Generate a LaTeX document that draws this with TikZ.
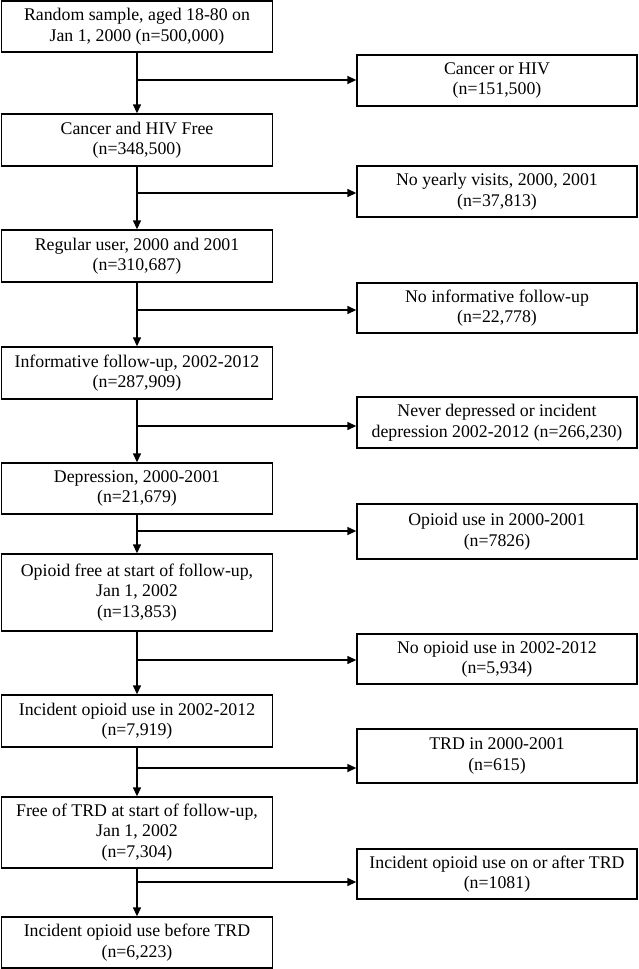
\documentclass[tikz,border=0pt]{standalone}
\usepackage{fontspec}
\setmainfont{Liberation Serif}
\usetikzlibrary{arrows.meta}
\begin{document}
\begin{tikzpicture}[x=1pt,y=-1pt,
  box/.style={draw=black, line width=1.4pt, rectangle, inner sep=0pt, align=center, font=\fontsize{17.8}{20.5}\selectfont},
  lbox/.style={box, minimum width=271pt},
  rbox/.style={box, minimum width=280pt},
  arr/.style={line width=1.4pt, -{Triangle[length=9pt,width=8pt]}}
]
\useasboundingbox (0,0) rectangle (638,969);
% left column
\node[lbox, minimum height=51pt] (b1) at (137,26.5) {Random sample, aged 18-80 on\\Jan 1, 2000 (n=500,000)};
\node[lbox, minimum height=52pt] (b2) at (137,140) {Cancer and HIV Free\\(n=348,500)};
\node[lbox, minimum height=52pt] (b3) at (137,256) {Regular user, 2000 and 2001\\(n=310,687)};
\node[lbox, minimum height=52pt] (b4) at (137,373) {Informative follow-up, 2002-2012\\(n=287,909)};
\node[lbox, minimum height=51pt] (b5) at (137,488.5) {Depression, 2000-2001\\(n=21,679)};
\node[lbox, minimum height=77pt] (b6) at (137,592.5) {Opioid free at start of follow-up,\\Jan 1, 2002\\(n=13,853)};
\node[lbox, minimum height=52pt] (b7) at (137,721) {Incident opioid use in 2002-2012\\(n=7,919)};
\node[lbox, minimum height=71pt] (b8) at (137,832.5) {Free of TRD at start of follow-up,\\Jan 1, 2002\\(n=7,304)};
\node[lbox, minimum height=51pt] (b9) at (137,942.5) {Incident opioid use before TRD\\(n=6,223)};
% right column
\node[rbox, minimum height=51pt] (r1) at (497,80.5) {Cancer or HIV\\(n=151,500)};
\node[rbox, minimum height=51pt] (r2) at (497,191.5) {No yearly visits, 2000, 2001\\(n=37,813)};
\node[rbox, minimum height=50pt] (r3) at (497,308) {No informative follow-up\\(n=22,778)};
\node[rbox, minimum height=51pt] (r4) at (497,422.5) {Never depressed or incident\\depression 2002-2012 (n=266,230)};
\node[rbox, minimum height=55pt] (r5) at (497,531.5) {Opioid use in 2000-2001\\(n=7826)};
\node[rbox, minimum height=50pt] (r6) at (497,659) {No opioid use in 2002-2012\\(n=5,934)};
\node[rbox, minimum height=54pt] (r7) at (497,756) {TRD in 2000-2001\\(n=615)};
\node[rbox, minimum height=50pt] (r8) at (497,874) {Incident opioid use on or after TRD\\(n=1081)};
% spine
\draw[arr] (b1.south) -- (b2.north);
\draw[arr] (b2.south) -- (b3.north);
\draw[arr] (b3.south) -- (b4.north);
\draw[arr] (b4.south) -- (b5.north);
\draw[arr] (b5.south) -- (b6.north);
\draw[arr] (b6.south) -- (b7.north);
\draw[arr] (b7.south) -- (b8.north);
\draw[arr] (b8.south) -- (b9.north);
% branches
\coordinate (j1) at (137,80);
\coordinate (j2) at (137,193);
\coordinate (j3) at (137,310);
\coordinate (j4) at (137,426);
\coordinate (j5) at (137,531);
\coordinate (j6) at (137,660);
\coordinate (j7) at (137,768);
\coordinate (j8) at (137,882);
\draw[arr] (j1) -- (j1 -| r1.west);
\draw[arr] (j2) -- (j2 -| r2.west);
\draw[arr] (j3) -- (j3 -| r3.west);
\draw[arr] (j4) -- (j4 -| r4.west);
\draw[arr] (j5) -- (j5 -| r5.west);
\draw[arr] (j6) -- (j6 -| r6.west);
\draw[arr] (j7) -- (j7 -| r7.west);
\draw[arr] (j8) -- (j8 -| r8.west);
\end{tikzpicture}
\end{document}
